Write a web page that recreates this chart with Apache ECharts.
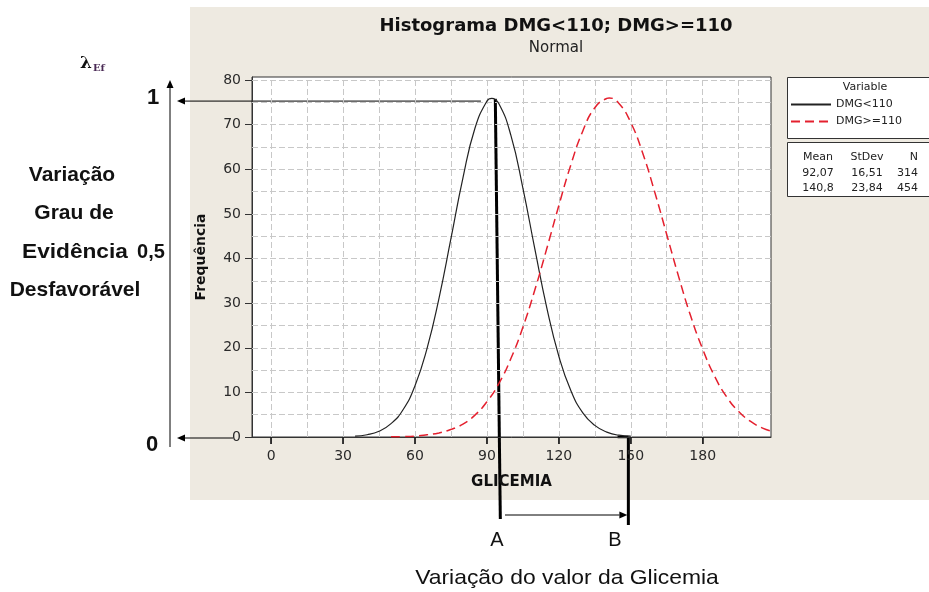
<!DOCTYPE html>
<html>
<head>
<meta charset="utf-8">
<title>Histograma DMG&lt;110; DMG&gt;=110</title>
<script src="https://cdn.jsdelivr.net/npm/echarts@6/dist/echarts.min.js"></script>
<style>
  html, body { margin: 0; padding: 0; background: #fff; }
  #chart { width: 929px; height: 592px; }
</style>
</head>
<body>
<div id="chart"></div>
<script>
// eixos
const glicemiaTicks = [0, 30, 60, 90, 120, 150, 180];
const freqTicks = [0, 10, 20, 30, 40, 50, 60, 70, 80];
const gridGlicemia = [0, 15, 30, 45, 60, 75, 90, 105, 120, 135, 150, 165, 180, 195];
const gridFreq = [5, 10, 15, 20, 25, 30, 35, 40, 45, 50, 55, 60, 65, 70, 75, 80];

// curva DMG<110
const lowX = [35, 40, 45, 50, 55, 60, 65, 70, 75, 80, 85, 90, 92, 95, 100, 105, 110, 115, 120, 125, 130, 135, 140, 145, 150];
const lowY = [0.2, 0.5, 1.3, 3.0, 6.1, 11.5, 19.8, 31.1, 44.5, 58.1, 69.2, 75.3, 75.9, 74.7, 67.6, 55.8, 42.1, 28.9, 18.1, 10.4, 5.4, 2.6, 1.1, 0.4, 0.2];

// curva DMG>=110
const highX = [50, 55, 60, 65, 70, 75, 80, 85, 90, 95, 100, 105, 110, 115, 120, 125, 130, 135, 140, 141, 145, 150, 155, 160, 165, 170, 175, 180, 185, 190, 195, 200, 205, 210];
const highY = [0.05, 0.1, 0.2, 0.5, 0.9, 1.7, 2.9, 4.9, 7.9, 12.0, 17.6, 24.6, 33.0, 42.3, 51.9, 61.0, 68.6, 73.8, 75.9, 76.0, 74.8, 70.5, 63.6, 54.9, 45.4, 35.9, 27.1, 19.7, 13.6, 9.0, 5.7, 3.5, 2.0, 1.1];

// tabela da legenda
const statsMean = ["92,07", "140,8"];
const statsStDev = ["16,51", "23,84"];
const statsN = ["314", "454"];

// marcas A e B
const markA = 93.5;
const markB = 149;
const peakFreq = 75.8;
const levelTop = 75.3;
const arrowTopStart = 87.5;

const chart = echarts.init(document.getElementById("chart"));

const axisFont = { fontFamily: "DejaVu Sans", fontSize: 14, color: "#2a2a2a" };
const sans = "Liberation Sans";

chart.setOption({
  animation: false,
  backgroundColor: "#fff",
  title: {
    text: "Histograma DMG<110; DMG>=110",
    subtext: "Normal",
    left: 556,
    textAlign: "center",
    top: 15,
    itemGap: 2,
    padding: 0,
    textStyle: { fontFamily: "DejaVu Sans", fontWeight: "bold", fontSize: 18, color: "#111", lineHeight: 22 },
    subtextStyle: { fontFamily: "DejaVu Sans", fontSize: 15, color: "#222", lineHeight: 18 }
  },
  legend: {
    data: ["DMG<110", "DMG>=110"],
    orient: "vertical",
    left: 790,
    top: 99,
    padding: 0,
    itemWidth: 40,
    itemHeight: 12,
    itemGap: 6,
    itemStyle: { opacity: 0 },
    textStyle: { fontFamily: "DejaVu Sans", fontSize: 11, color: "#222" }
  },
  grid: {
    left: 252,
    right: 158,
    top: 77,
    bottom: 155,
    show: true,
    backgroundColor: "#fff",
    borderColor: "#333",
    borderWidth: 1,
    outerBoundsMode: "none"
  },
  xAxis: {
    type: "value",
    min: -8,
    max: 208.5,
    name: "GLICEMIA",
    nameLocation: "middle",
    nameGap: 38,
    nameTextStyle: { fontFamily: "DejaVu Sans", fontWeight: "bold", fontSize: 15, color: "#111" },
    axisLine: { show: true, onZero: false, lineStyle: { color: "#333" } },
    axisTick: { show: true, inside: false, customValues: glicemiaTicks, length: 7, lineStyle: { color: "#222", width: 1.5 } },
    axisLabel: Object.assign({ customValues: glicemiaTicks, margin: 12 }, axisFont),
    splitLine: { show: false }
  },
  yAxis: {
    type: "value",
    min: 0,
    max: 80.7,
    name: "Frequência",
    nameLocation: "middle",
    nameGap: 44,
    nameTextStyle: { fontFamily: "DejaVu Sans", fontWeight: "bold", fontSize: 14, color: "#111" },
    axisLine: { show: true, onZero: false, lineStyle: { color: "#333" } },
    axisTick: { show: true, customValues: freqTicks, length: 7, lineStyle: { color: "#333", width: 1 } },
    axisLabel: Object.assign({ customValues: freqTicks, margin: 11 }, axisFont),
    splitLine: { show: false }
  },
  series: [
    {
      name: "DMG<110",
      type: "line",
      data: lowX.map((x, i) => [x, lowY[i]]),
      symbol: "none",
      smooth: true,
      lineStyle: { color: "#222", width: 1.2 },
      itemStyle: { color: "#222" },
      markLine: {
        silent: true,
        z: 1,
        symbol: "none",
        label: { show: false },
        lineStyle: { color: "#c8c8c8", type: [6, 3], width: 1 },
        data: gridGlicemia.map(v => ({ xAxis: v })).concat(gridFreq.map(v => ({ yAxis: v })))
      }
    },
    {
      name: "DMG>=110",
      type: "line",
      data: highX.map((x, i) => [x, highY[i]]),
      symbol: "none",
      smooth: true,
      lineStyle: { color: "#e4202e", width: 1.5, type: [9, 5] },
      itemStyle: { color: "#e4202e" }
    }
  ]
});

function px(x, y) {
  return chart.convertToPixel({ gridIndex: 0 }, [x, y]);
}

function arrow(x1, y1, x2, y2) {
  const dx = x2 - x1, dy = y2 - y1;
  const len = Math.hypot(dx, dy);
  const ux = dx / len, uy = dy / len;
  const L = 8, W = 3.5;
  const bx = x2 - ux * L, by = y2 - uy * L;
  return [
    { type: "line", shape: { x1: x1, y1: y1, x2: bx, y2: by }, style: { stroke: "#000", lineWidth: 1 } },
    { type: "polygon", shape: { points: [[x2, y2], [bx - uy * W, by + ux * W], [bx + uy * W, by - ux * W]] }, style: { fill: "#000" } }
  ];
}

function label(text, x, y, size, opts) {
  return {
    type: "text",
    x: x,
    y: y,
    scaleX: (opts && opts.scaleX) || 1,
    style: {
      text: text,
      fill: "#111",
      font: ((opts && opts.bold) ? "bold " : "") + size + "px '" + sans + "'",
      textAlign: (opts && opts.align) || "center",
      textVerticalAlign: "middle"
    }
  };
}

const peakPx = px(markA, peakFreq);
const levelPx = px(arrowTopStart, levelTop);
const zeroPx = px(-8, 0);
const bPx = px(markB, 0);
const bStart = px(144.5, 0);

let elements = [
  // painel cinza
  { type: "rect", z: -1, shape: { x: 190, y: 7, width: 760, height: 493 }, style: { fill: "#eeeae1" } },
  // caixas da legenda
  { type: "rect", shape: { x: 787.5, y: 77.5, width: 160, height: 61 }, style: { fill: "#fff", stroke: "#333", lineWidth: 1 } },
  { type: "rect", shape: { x: 787.5, y: 142.5, width: 160, height: 54 }, style: { fill: "#fff", stroke: "#333", lineWidth: 1 } },
  { type: "text", z: 5, x: 865, y: 87, style: { text: "Variable", font: "11px 'DejaVu Sans'", fill: "#222", textAlign: "center", textVerticalAlign: "middle" } }
];

const headers = [["Mean", 818, "center"], ["StDev", 867, "center"], ["N", 918, "right"]];
const columns = [statsMean, statsStDev, statsN];
headers.forEach((h, c) => {
  elements.push({ type: "text", z: 5, x: h[1], y: 157, style: { text: h[0], font: "11px 'DejaVu Sans'", fill: "#222", textAlign: h[2], textVerticalAlign: "middle" } });
  columns[c].forEach((v, r) => {
    elements.push({ type: "text", z: 5, x: h[1], y: 173 + r * 15, style: { text: v, font: "11px 'DejaVu Sans'", fill: "#222", textAlign: h[2], textVerticalAlign: "middle" } });
  });
});

// ticks do eixo da glicemia desenhados também à mão, caso o eixo não os mostre
glicemiaTicks.forEach(v => {
  const p = px(v, 0);
  elements.push({ type: "line", z: 3, shape: { x1: p[0], y1: p[1], x2: p[0], y2: p[1] + 7 }, style: { stroke: "#222", lineWidth: 1.2 } });
});

// setas do grau de evidência
elements = elements.concat(
  arrow(170, 447, 170, 80),
  arrow(levelPx[0], levelPx[1], 177, levelPx[1]),
  arrow(zeroPx[0] - 19, zeroPx[1] + 1, 177, zeroPx[1] + 1),
  arrow(505, 515, bPx[0] - 1, 515)
);

elements.push(
  { type: "line", shape: { x1: peakPx[0], y1: peakPx[1], x2: peakPx[0] + 5, y2: 519 }, style: { stroke: "#000", lineWidth: 3 } },
  { type: "line", shape: { x1: bPx[0], y1: bPx[1], x2: bPx[0], y2: 525 }, style: { stroke: "#000", lineWidth: 3 } },
  { type: "line", shape: { x1: bStart[0], y1: bStart[1], x2: bPx[0], y2: bPx[1] }, style: { stroke: "#000", lineWidth: 2.5 } },
  {
    type: "text", x: 80, y: 64,
    style: {
      text: "{l|λ}{s|Ef}",
      textAlign: "left",
      textVerticalAlign: "middle",
      rich: {
        l: { font: "bold 17px 'DejaVu Serif'", fill: "#111" },
        s: { font: "bold 10px 'DejaVu Serif'", fill: "#4a2a55", padding: [8, 0, 0, 1] }
      }
    }
  },
  label("1", 153, 98, 22, { bold: true }),
  label("0", 152, 445, 22, { bold: true }),
  label("Variação", 72, 175, 21, { bold: true }),
  label("Grau de", 74, 213, 21, { bold: true }),
  label("Evidência", 22, 252, 21, { bold: true, align: "left", scaleX: 1.08 }),
  label("0,5", 151, 252, 20, { bold: true }),
  label("Desfavorável", 75, 290, 21, { bold: true }),
  label("A", 497, 540, 20),
  label("B", 615, 540, 20),
  label("Variação do valor da Glicemia", 567, 578, 21, { scaleX: 1.09 })
);

chart.setOption({ graphic: elements });
</script>
</body>
</html>
